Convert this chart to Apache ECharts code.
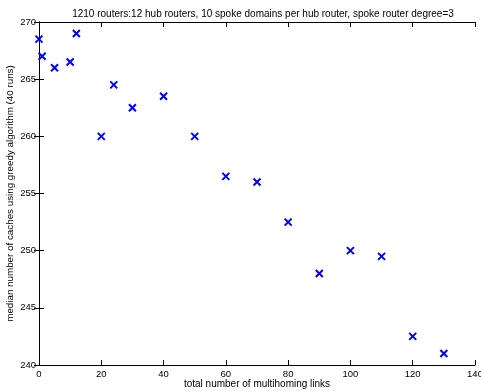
<!DOCTYPE html>
<html>
<head>
<meta charset="utf-8">
<script src="https://cdn.jsdelivr.net/npm/echarts@6/dist/echarts.min.js"></script>
<style>
  html, body { margin: 0; padding: 0; background: #fff; }
  #chart { width: 481px; height: 392px; }
</style>
</head>
<body>
<div id="chart"></div>
<script>
const links = [0, 1, 5, 10, 12, 20, 24, 30, 40, 50, 60, 70, 80, 90, 100, 110, 120, 130]
const medianCaches = [268.5, 267, 266, 266.5, 269, 260, 264.5, 262.5, 263.5, 260, 256.5, 256, 252.5, 248, 250, 249.5, 242.5, 241]

const chart = echarts.init(document.getElementById('chart'))
const font = 'Helvetica, "Liberation Sans", Arial, sans-serif'
const axisLine = { show: true, lineStyle: { color: '#000', width: 1 } }
const tick = { show: true, inside: true, length: 5, lineStyle: { color: '#000' } }

chart.setOption({
  animation: false,
  textStyle: { fontFamily: font },
  title: {
    text: '1210 routers:12 hub routers, 10 spoke domains per hub router, spoke router degree=3',
    left: 258,
    textAlign: 'center',
    top: 4,
    textStyle: { fontSize: 10, fontWeight: 'normal', color: '#000', fontFamily: font },
  },
  grid: { left: 39, right: 6, top: 22, bottom: 27, containLabel: false, outerBoundsMode: 'none' },
  xAxis: [
    {
      type: 'value',
      min: 0,
      max: 140,
      interval: 20,
      name: 'total number of multihoming links',
      nameLocation: 'middle',
      nameGap: 14,
      nameMoveOverlap: false,
      nameTextStyle: { fontSize: 10, color: '#000' },
      axisLine,
      axisTick: tick,
      axisLabel: { color: '#000', fontSize: 9.5, margin: 4 },
      splitLine: { show: false },
    },
    {
      type: 'value',
      position: 'top',
      min: 0,
      max: 140,
      interval: 20,
      axisLine,
      axisTick: tick,
      axisLabel: { show: false },
      splitLine: { show: false },
    },
  ],
  yAxis: [
    {
      type: 'value',
      min: 240,
      max: 270,
      interval: 5,
      name: 'median number of caches using greedy algorithm (40 runs)',
      nameLocation: 'middle',
      nameGap: 24,
      nameMoveOverlap: false,
      nameTextStyle: { fontSize: 9.8, color: '#000' },
      axisLine,
      axisTick: tick,
      axisLabel: { color: '#000', fontSize: 9.5, margin: 3 },
      splitLine: { show: false },
    },
    {
      type: 'value',
      position: 'right',
      min: 240,
      max: 270,
      interval: 5,
      axisLine,
      axisTick: tick,
      axisLabel: { show: false },
      splitLine: { show: false },
    },
  ],
  series: [
    {
      type: 'scatter',
      data: links.map((x, i) => [x, medianCaches[i]]),
      symbol: 'path://M0,0L10,10M10,0L0,10',
      symbolSize: 7,
      itemStyle: { color: 'rgba(0,0,0,0)', borderColor: '#0000ff', borderWidth: 2, opacity: 1 },
      clip: false,
    },
  ],
})
</script>
</body>
</html>
